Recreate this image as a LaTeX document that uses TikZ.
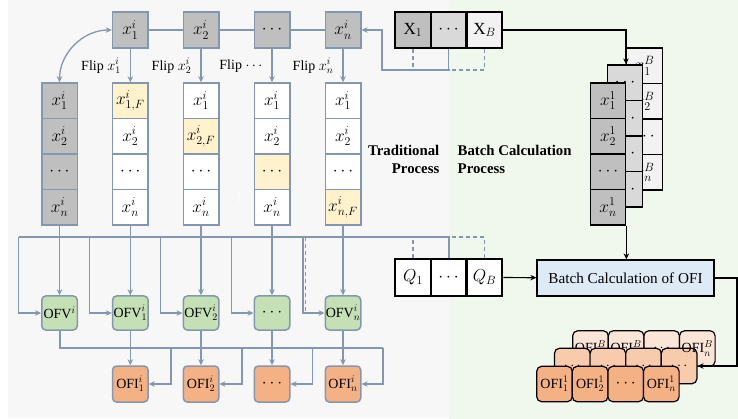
\documentclass[tikz,border=0pt]{standalone}
\usepackage{fontspec}
\setmainfont{Liberation Serif}
\usetikzlibrary{arrows.meta}

\definecolor{lineblue}{HTML}{8497B0}
\definecolor{grayA}{HTML}{BFBFBF}
\definecolor{grayB}{HTML}{D9D9D9}
\definecolor{grayC}{HTML}{F2F2F2}
\definecolor{flipyellow}{HTML}{FFF2CC}
\definecolor{ofvgreen}{HTML}{C5E0B4}
\definecolor{orangeA}{HTML}{F4B183}
\definecolor{orangeB}{HTML}{F8CBAD}
\definecolor{orangeC}{HTML}{FBE5D6}
\definecolor{calcblue}{HTML}{DEEBF7}
\definecolor{bgleft}{HTML}{F7F7F7}
\definecolor{bgright}{HTML}{F0F7EC}

\begin{document}
\begin{tikzpicture}[x=1pt,y=-1pt,
  cell/.style={draw=lineblue, line width=1.5pt, fill=white, minimum width=35.5pt,
    minimum height=35.5pt, inner sep=0pt, font=\fontsize{17}{19}\selectfont},
  gcell/.style={cell, fill=grayA},
  ycell/.style={cell, fill=flipyellow},
  ofv/.style={cell, rounded corners=4pt, fill=ofvgreen, minimum height=34pt,
    font=\fontsize{14}{16}\selectfont},
  ofi/.style={cell, rounded corners=4pt, fill=orangeA, minimum height=36pt,
    font=\fontsize{14}{16}\selectfont},
  blk/.style={draw=black, line width=2.4pt, minimum width=35.5pt, minimum height=36pt,
    inner sep=0pt, font=\fontsize{17}{19}\selectfont},
  stk/.style={draw=black, line width=1.2pt, minimum width=35.5pt, minimum height=35.5pt,
    inner sep=0pt, font=\fontsize{17}{19}\selectfont},
  ostk/.style={draw=black, line width=1.2pt, rounded corners=5pt, minimum width=35.6pt,
    minimum height=35.5pt, inner sep=0pt, font=\fontsize{14}{16}\selectfont},
  conn/.style={draw=lineblue, line width=1.3pt},
  bus/.style={draw=lineblue, line width=2pt},
  dconn/.style={draw=lineblue, line width=1.3pt, dash pattern=on 4pt off 3pt},
  arr/.style={conn, -{Stealth[length=6pt,width=5.5pt]}},
  barr/.style={draw=black, line width=1.2pt, -{Stealth[length=6pt,width=5.5pt]}},
  fliplbl/.style={anchor=east, inner sep=0pt, font=\fontsize{14}{16}\selectfont},
  headlbl/.style={inner sep=0pt, font=\bfseries\fontsize{14.8}{18}\selectfont}
]
\useasboundingbox (0,0) rectangle (738,419);

% two process panels
\fill[bgleft] (8,0) rectangle (449,418);
\fill[bgright] (449,0) rectangle (738,419);

% ---------- traditional process ----------
% source sample
\node[gcell, minimum height=36pt] (t1) at (130.3,30) {$x_1^i$};
\node[gcell, minimum height=36pt] (t2) at (201,30) {$x_2^i$};
\node[gcell, minimum height=36pt] (t3) at (272,30) {$\cdots$};
\node[gcell, minimum height=36pt] (t4) at (343,30) {$x_n^i$};
\draw[conn] (t1) -- (t2) -- (t3) -- (t4);

% original and flipped copies
\node[gcell] (c11) at (59.5,100.75) {$x_1^i$};
\node[gcell] (c12) at (59.5,136.25) {$x_2^i$};
\node[gcell] (c13) at (59.5,171.75) {$\cdots$};
\node[gcell] (c14) at (59.5,207.25) {$x_n^i$};

\node[ycell] (c21) at (130.3,100.75) {$x_{1,F}^i$};
\node[cell]  (c22) at (130.3,136.25) {$x_2^i$};
\node[cell]  (c23) at (130.3,171.75) {$\cdots$};
\node[cell]  (c24) at (130.3,207.25) {$x_n^i$};

\node[cell]  (c31) at (201,100.75) {$x_1^i$};
\node[ycell] (c32) at (201,136.25) {$x_{2,F}^i$};
\node[cell]  (c33) at (201,171.75) {$\cdots$};
\node[cell]  (c34) at (201,207.25) {$x_n^i$};

\node[cell]  (c41) at (272,100.75) {$x_1^i$};
\node[cell]  (c42) at (272,136.25) {$x_2^i$};
\node[ycell] (c43) at (272,171.75) {$\cdots$};
\node[cell]  (c44) at (272,207.25) {$x_n^i$};

\node[cell]  (c51) at (343,100.75) {$x_1^i$};
\node[cell]  (c52) at (343,136.25) {$x_2^i$};
\node[cell]  (c53) at (343,171.75) {$\cdots$};
\node[ycell] (c54) at (343,207.25) {$x_{n,F}^i$};

\draw[conn, {Stealth[length=6pt,width=5.5pt]}-{Stealth[length=6pt,width=5.5pt]}]
  (c11.north) to[out=90,in=180] (t1.west);
\draw[arr] (t1) -- (c21);
\draw[arr] (t2) -- (c31);
\draw[arr] (t3) -- (c41);
\draw[arr] (t4) -- (c51);
\node[fliplbl] (fl1) at (121,66) {Flip $x_1^i$};
\node[fliplbl] (fl2) at (191.5,66) {Flip $x_2^i$};
\node[fliplbl] (fl3) at (262.5,66) {Flip $\cdots$};
\node[fliplbl] (fl4) at (333.5,66) {Flip $x_n^i$};

\node[text=white, font=\sffamily\fontsize{13}{13}\selectfont] (wm) at (237,197) {-1};

% output feature vectors
\node[ofv] (v1) at (59.5,313) {OFV$^i$};
\node[ofv] (v2) at (130.3,313) {OFV$_1^i$};
\node[ofv] (v3) at (201,313) {OFV$_2^i$};
\node[ofv, font=\fontsize{17}{19}\selectfont] (v4) at (272,313) {$\cdots$};
\node[ofv] (v5) at (343,313) {OFV$_n^i$};

\draw[arr] (c14) -- (v1);
\draw[arr] (c24) -- (v2);
\draw[arr] (c34) -- (v3);
\draw[arr] (c44) -- (v4);
\draw[arr] (c54) -- (v5);

% query bus feeding every OFV
\coordinate (b1) at (18.5,237);
\coordinate (b2) at (89.5,237);
\coordinate (b3) at (160.5,237);
\coordinate (b4) at (231.5,237);
\coordinate (b5) at (303,237);
\draw[arr] (b1) |- (v1.west);
\draw[arr] (b2) |- (v2.west);
\draw[arr] (b3) |- (v3.west);
\draw[arr] (b4) |- (v4.west);
\draw[arr] (b5) |- (v5.west);
\draw[dconn] ([xshift=2.5pt]b5) -- ([xshift=2.5pt]b5 |- v5.west);

% output feature importances
\node[ofi] (o2) at (130.3,384) {OFI$_1^i$};
\node[ofi] (o3) at (201,384) {OFI$_2^i$};
\node[ofi, font=\fontsize{17}{19}\selectfont] (o4) at (272,384) {$\cdots$};
\node[ofi] (o5) at (343,384) {OFI$_n^i$};

\draw[arr] (v2) -- (o2);
\draw[arr] (v3) -- (o3);
\draw[arr] (v4) -- (o4);
\draw[arr] (v5) -- (o5);

\coordinate (ob1) at (59.5,348);
\coordinate (ob2) at (171,348);
\coordinate (ob3) at (242,348);
\coordinate (ob4) at (312.5,348);
\coordinate (ob5) at (383,348);
\draw[bus] (v1.south) -- (ob1) -- (ob5);
\draw[arr] (ob2) |- (o2.east);
\draw[arr] (ob3) |- (o3.east);
\draw[arr] (ob4) |- (o4.east);
\draw[arr] (ob5) |- (o5.east);

% ---------- batch calculation process ----------
\node[headlbl, anchor=east, align=right] (trad) at (439.5,159) {Traditional\\Process};
\node[headlbl, anchor=west, align=left] (batch) at (457.5,159) {Batch Calculation\\Process};

% input batch
\node[blk, fill=grayA] (X1) at (413,30) {X$_1$};
\node[blk, fill=grayB] (Xd) at (448.5,30) {$\cdots$};
\node[blk, fill=grayC] (XB) at (484.5,30) {X$_B$};

\coordinate (tr) at (382,70);
\draw[arr] (Xd.south) -- (Xd.south |- tr) -- (tr) |- (t4.east);
\draw[dconn] (X1.south) -- (X1.south |- tr);
\draw[dconn] (XB.south) -- (XB.south |- tr) -- (Xd.south |- tr);

% query batch
\node[blk, fill=white, minimum height=37pt] (Q1) at (413,277.5) {$Q_1$};
\node[blk, fill=white, minimum height=37pt] (Qd) at (448.5,277.5) {$\cdots$};
\node[blk, fill=white, minimum height=37pt] (QB) at (484.5,277.5) {$Q_B$};

\draw[bus] (Qd.north) -- (Qd.north |- b1) -- (b1);
\draw[dconn] (Q1.north) -- (Q1.north |- b1);
\draw[dconn] (QB.north) -- (QB.north |- b1) -- (Qd.north |- b1);

% stacked sample copies
\node[stk, fill=grayC] (sb1) at (644.5,65.75) {$x_1^B$};
\node[stk, fill=grayC] (sb2) at (644.5,101.25) {$x_2^B$};
\node[stk, fill=grayC] (sb3) at (644.5,136.75) {$\cdots$};
\node[stk, fill=grayC] (sb4) at (644.5,172.25) {$x_n^B$};

\node[stk, fill=grayB] (sm1) at (625,82.75) {$\cdots$};
\node[stk, fill=grayB] (sm2) at (625,118.25) {$\cdots$};
\node[stk, fill=grayB] (sm3) at (625,153.75) {$\cdots$};
\node[stk, fill=grayB] (sm4) at (625,189.25) {$\cdots$};

\node[stk, fill=grayA] (sf1) at (608,100.75) {$x_1^1$};
\node[stk, fill=grayA] (sf2) at (608,136.25) {$x_2^1$};
\node[stk, fill=grayA] (sf3) at (608,171.75) {$\cdots$};
\node[stk, fill=grayA] (sf4) at (608,207.25) {$x_n^1$};

\coordinate (ar1) at (626,30);
\draw[barr] (XB.east) -- (ar1) -- (ar1 |- sm1.north);

% batch OFI computation
\node[draw=black, line width=1.2pt, fill=calcblue, minimum width=177pt, minimum height=36pt,
  inner sep=0pt, font=\fontsize{15.2}{17}\selectfont] (bc) at (625.5,278) {Batch Calculation of OFI};
\draw[barr] (sf4.south east) -- (sf4.south east |- bc.north);
\draw[barr] (QB) -- (bc);

% stacked OFI results
\node[ostk, fill=orangeC] (pb1) at (590.5,348.5) {OFI$_1^B$};
\node[ostk, fill=orangeC] (pb2) at (626.1,348.5) {OFI$_2^B$};
\node[ostk, fill=orangeC] (pb3) at (661.7,348.5) {$\cdots$};
\node[ostk, fill=orangeC] (pb4) at (697.3,348.5) {};

\node[ostk, fill=orangeB] (pm1) at (572.3,366) {$\cdots$};
\node[ostk, fill=orangeB] (pm2) at (607.9,366) {$\cdots$};
\node[ostk, fill=orangeB] (pm3) at (643.5,366) {$\cdots$};
\node[ostk, fill=orangeB] (pm4) at (679.1,366) {$\cdots$};
\node[font=\fontsize{14}{16}\selectfont, inner sep=0pt] (pb4l) at (pb4) {OFI$_n^B$};

\node[ostk, fill=orangeA] (pf1) at (554.5,384) {OFI$_1^1$};
\node[ostk, fill=orangeA] (pf2) at (590.1,384) {OFI$_2^1$};
\node[ostk, fill=orangeA, font=\fontsize{17}{19}\selectfont] (pf3) at (625.7,384) {$\cdots$};
\node[ostk, fill=orangeA] (pf4) at (661.3,384) {OFI$_n^1$};

\coordinate (ar2) at (737,278);
\draw[barr] (bc.east) -- (ar2) |- (pm4.east);
\end{tikzpicture}
\end{document}
